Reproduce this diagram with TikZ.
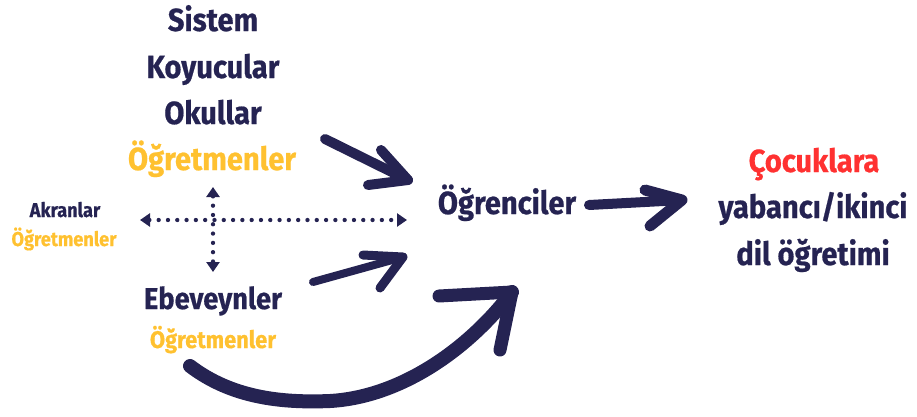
\documentclass[tikz,border=0pt]{standalone}
\usepackage{fontspec}
\usetikzlibrary{arrows.meta}
\newfontfamily\cond[FakeStretch=0.91,FakeBold=0.6]{Fira Sans}
\definecolor{navy}{RGB}{37,35,82}
\definecolor{gold}{RGB}{255,193,48}
\definecolor{redc}{RGB}{255,49,49}
\tikzset{
  txt/.style={inner sep=0pt, anchor=base, text=navy, font=\cond\bfseries\fontsize{#1}{#1}\selectfont},
  brush/.style={draw=navy, line width=#1, line cap=round, line join=round},
  dots/.style={draw=navy, line width=4.3pt, line cap=round, dash pattern=on 0pt off 9.3pt,
    {Triangle[width=13pt,length=10pt]}-{Triangle[width=13pt,length=10pt]}}
}
\begin{document}
\begin{tikzpicture}[x=1pt,y=-1pt]
\useasboundingbox (0,0) rectangle (917,416);
% left column
\node[txt=32] (sistem) at (213,31) {Sistem};
\node[txt=32] (koyucu) at (213,78) {Koyucular};
\node[txt=32] (okul) at (213,124) {Okullar};
\node[txt=32,text=gold] (ogrt) at (212,170) {Öğretmenler};
\node[txt=20] (akran) at (65,217) {Akranlar};
\node[txt=20,text=gold] (akranogrt) at (64,246) {Öğretmenler};
\node[txt=30] (ebeveyn) at (213,309) {Ebeveynler};
\node[txt=24,text=gold] (ebogrt) at (213,348) {Öğretmenler};
% middle and right
\node[txt=32] (ogrenci) at (507,214) {Öğrenciler};
\node[txt=32,text=redc] (cocuk) at (814,172) {Çocuklara};
\node[txt=32] (yabanci) at (813,218) {yabancı/ikinci};
\node[txt=32] (dil) at (813,265) {dil öğretimi};

% dotted cross
\coordinate (hl) at (140,220);
\coordinate (hr) at (407,220);
\coordinate (vt) at (213,187);
\coordinate (vb) at (213,272);
\draw[dots] (hl) -- (hr);
\draw[dots] (vt) -- (vb);

% brush arrows
\coordinate (a1) at (325,139); \coordinate (t1) at (408,180);
\draw[brush=10pt] (a1) -- (t1);
\draw[brush=10pt] (381,150) -- (t1) -- (368,185);
\coordinate (a2) at (313,282); \coordinate (t2) at (403,257);
\draw[brush=8pt] (a2) -- (t2);
\draw[brush=9pt] (363,255) -- (t2) -- (380,288);
\coordinate (a3) at (190,366); \coordinate (t3) at (512,292);
\draw[brush=14pt] (a3) .. controls (232,398) and (282,403) .. (330,401)
  .. controls (400,397) and (468,350) .. (t3);
\draw[brush=13pt] (439,296) -- (t3) -- (500,350);
\coordinate (a4) at (589,205); \coordinate (t4) at (682,200);
\draw[brush=10pt] (a4) -- (t4);
\draw[brush=11pt] (645,190) -- (t4) -- (650,226);
\end{tikzpicture}
\end{document}
